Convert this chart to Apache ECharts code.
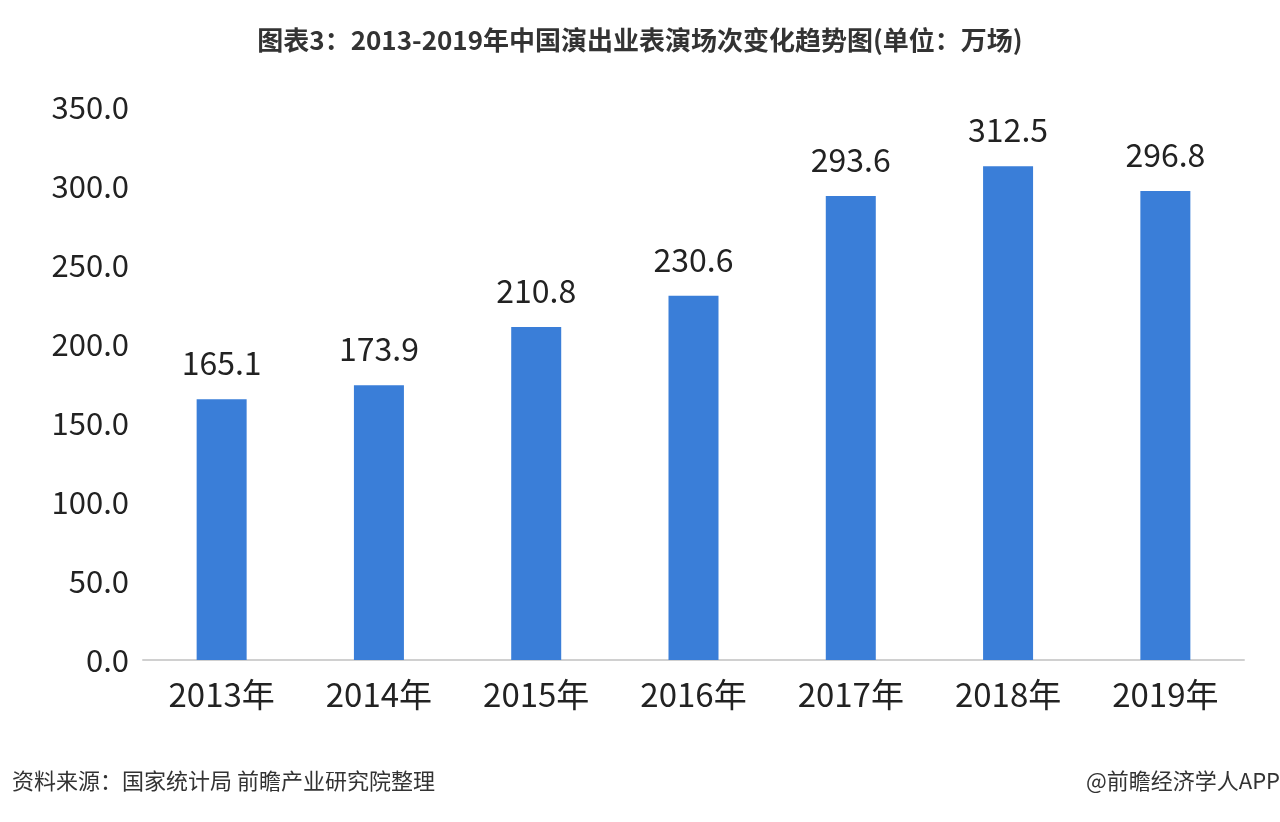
<!DOCTYPE html>
<html><head><meta charset="utf-8">
<script src="https://cdn.jsdelivr.net/npm/echarts@6/dist/echarts.min.js"></script>
<style>html,body{margin:0;background:#fff}#main{width:1280px;height:822px}</style>
</head><body><div id="main"></div>
<script>
var years = ['2013年','2014年','2015年','2016年','2017年','2018年','2019年'];
var shows = [165.1, 173.9, 210.8, 230.6, 293.6, 312.5, 296.8];

var chart = echarts.init(document.getElementById('main'));
chart.setOption({
    title: {
        text: '图表3：2013-2019年中国演出业表演场次变化趋势图(单位：万场)',
        left: 'center', top: 22,
        textStyle: {fontSize: 26, fontWeight: 'bold', color: '#333', fontFamily: 'Noto Sans CJK SC'}
    },
    graphic: [
        {type: 'text', left: 12, top: 770, style: {text: '资料来源：国家统计局 前瞻产业研究院整理', fontSize: 22, fill: '#333', fontFamily: 'Noto Sans CJK SC'}},
        {type: 'text', right: 0, top: 770, style: {text: '@前瞻经济学人APP', fontSize: 22, fill: '#333', fontFamily: 'Noto Sans CJK SC'}}
    ],
    grid: {left: 143, right: 36, top: 107, bottom: 162},
    xAxis: {
        type: 'category', data: years,
        axisTick: {show: false},
        axisLine: {lineStyle: {color: '#d0d0d0', width: 2}},
        axisLabel: {fontSize: 33, color: '#222', margin: 18, fontFamily: 'Noto Sans CJK SC'}
    },
    yAxis: {
        type: 'value', min: 0, max: 350, interval: 50,
        splitLine: {show: false},
        axisLabel: {fontSize: 31, color: '#222', margin: 14, formatter: function (v) { return v.toFixed(1); }, fontFamily: 'Noto Sans CJK SC'}
    },
    series: [{
        type: 'bar', data: shows, barWidth: 50,
        itemStyle: {color: '#3a7ed8'},
        label: {show: true, position: 'top', distance: 20, fontSize: 32, color: '#222', formatter: function (p) { return p.value.toFixed(1); }, fontFamily: 'Noto Sans CJK SC'}
    }]
});
</script></body></html>
